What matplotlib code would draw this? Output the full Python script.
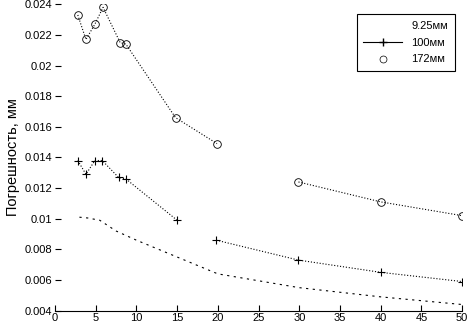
import numpy as np
import matplotlib.pyplot as plt
from matplotlib.lines import Line2D

plt.rcParams.update({'font.family': ['Liberation Sans', 'DejaVu Sans'], 'font.size': 8})

# 9.25 mm
x925 = [3, 4, 5.5, 7.5, 10, 15, 20, 30, 40, 50]
y925 = [0.0101, 0.01005, 0.0099, 0.0092, 0.0086, 0.0075, 0.0064, 0.0055, 0.0049, 0.0044]

# 100 mm
x100 = [2.8, 3.8, 4.9, 5.8, 7.8, 8.7, 15, 19.8, 29.9, 40, 50]
y100 = [0.0138, 0.0129, 0.0138, 0.0138, 0.0127, 0.0126, 0.0099, 0.0086, 0.0073, 0.0065, 0.0059]
gap100 = 7  # line broken between 15 and 20

# 172 mm
x172 = [2.8, 3.8, 4.9, 5.9, 8.0, 8.7, 14.8, 19.9, 29.9, 40, 50]
y172 = [0.0233, 0.0217, 0.0227, 0.0238, 0.0215, 0.0214, 0.0166, 0.0149, 0.0124, 0.0111, 0.0102]
gap172 = 8  # line broken between 20 and 30

labels = ['9.25мм', '100мм', '172мм']

fig = plt.figure(figsize=(4.68, 3.27), dpi=100)
ax = fig.add_axes([0.1175, 0.05, 0.87, 0.937])

ax.plot(x925, y925, color='k', lw=0.8, ls=(0, (2, 4)))

for a, b in [(0, gap100), (gap100, len(x100))]:
    ax.plot(x100[a:b], y100[a:b], color='k', lw=0.8, ls=':', marker='+', ms=6, mew=0.8)
for a, b in [(0, gap172), (gap172, len(x172))]:
    ax.plot(x172[a:b], y172[a:b], color='k', lw=0.8, ls=':', marker='o', ms=5.5,
            mfc='none', mew=0.6)

ax.set_xlim(0, 50)
ax.set_ylim(0.004, 0.024)
ax.set_xticks(np.arange(0, 51, 5))
yt = np.arange(0.004, 0.0241, 0.002)
ax.set_yticks(yt)
ax.set_yticklabels([('%g' % v) for v in yt])
ax.tick_params(direction='in', length=4, width=0.8, pad=2)
for s in ['top', 'right', 'left']:
    ax.spines[s].set_visible(False)
ax.spines['bottom'].set_linewidth(0.8)
ax.set_ylabel('Погрешность, мм', fontsize=10.5, labelpad=3)

handles = [
    Line2D([], [], ls='none'),
    Line2D([], [], color='k', lw=0.8, marker='+', ms=6),
    Line2D([], [], ls='none', marker='o', ms=5, mfc='none', mec='k', mew=0.5),
]
leg = ax.legend(handles, labels, loc='upper right', bbox_to_anchor=(0.995, 0.985),
                fancybox=False, edgecolor='k', framealpha=1, handlelength=3.5,
                borderpad=0.6, labelspacing=0.6)
leg.get_frame().set_linewidth(0.8)

fig.savefig('out.png', dpi=100)
